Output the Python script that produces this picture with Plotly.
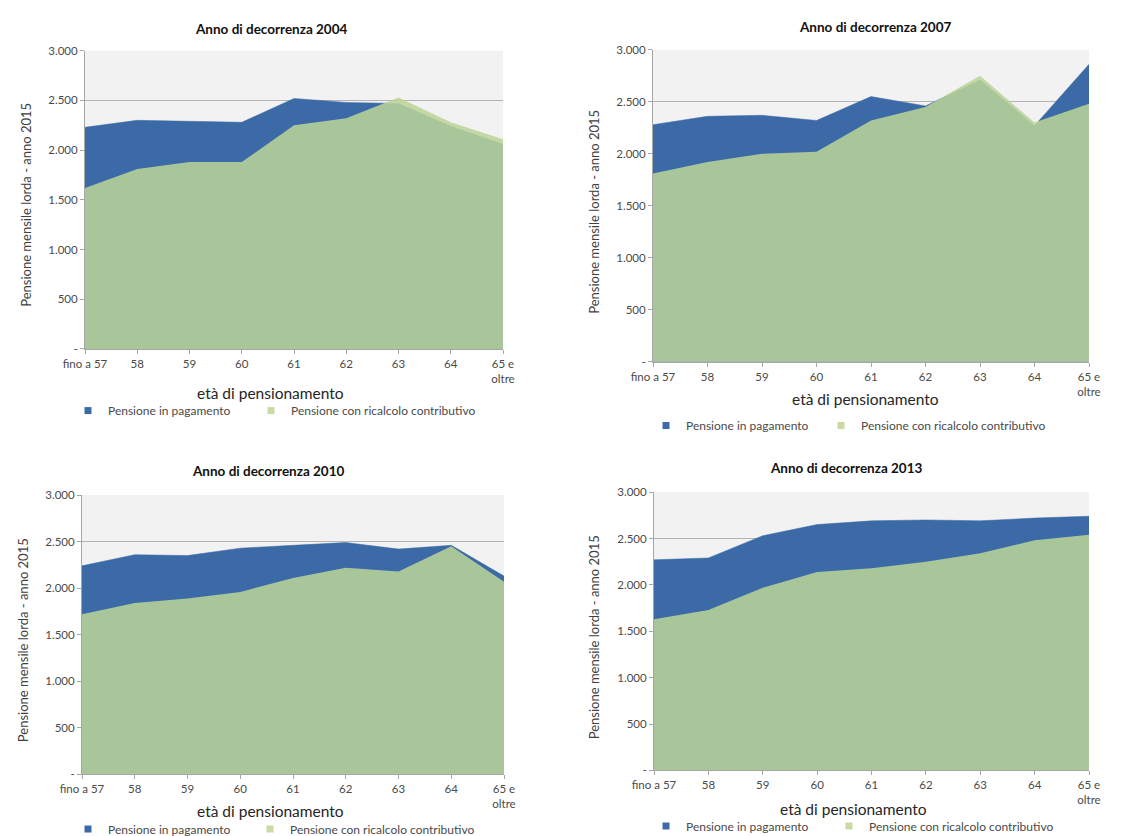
import plotly.graph_objects as go

# ---------------- data ----------------
categories = ["fino a 57", "58", "59", "60", "61", "62", "63", "64", "65 e<br>oltre"]
years = ["2004", "2007", "2010", "2013"]

pagamento_2004 = [2230, 2300, 2290, 2280, 2520, 2480, 2470, 2240, 2060]
ricalcolo_2004 = [1620, 1810, 1880, 1880, 2250, 2320, 2530, 2280, 2110]

pagamento_2007 = [2280, 2360, 2370, 2320, 2550, 2460, 2710, 2270, 2860]
ricalcolo_2007 = [1810, 1920, 2000, 2020, 2320, 2450, 2750, 2300, 2480]

pagamento_2010 = [2240, 2360, 2350, 2430, 2460, 2490, 2420, 2460, 2130]
ricalcolo_2010 = [1720, 1840, 1890, 1960, 2110, 2220, 2180, 2450, 2070]

pagamento_2013 = [2270, 2290, 2530, 2650, 2690, 2700, 2690, 2720, 2740]
ricalcolo_2013 = [1630, 1730, 1970, 2140, 2180, 2250, 2340, 2480, 2540]

ytick_vals = [0, 500, 1000, 1500, 2000, 2500, 3000]
ytick_text = ["-", "500", "1.000", "1.500", "2.000", "2.500", "3.000"]

series_names = ["Pensione in pagamento", "Pensione con ricalcolo contributivo"]
pagamento = [pagamento_2004, pagamento_2007, pagamento_2010, pagamento_2013]
ricalcolo = [ricalcolo_2004, ricalcolo_2007, ricalcolo_2010, ricalcolo_2013]

# ---------------- layout geometry (pixels) ----------------
W, H = 1146, 836
FONT = "Lato"
BLUE = "#3B6AA6"
GREEN = "rgba(188,212,152,0.86)"
LEGEND_GREEN = "#C9DAA6"

panels = [
    dict(box=(77, 495, 43, 343), title=(263, 21), ytitle=(18, 198), xtitle=(262, 387),
         legend=((90, 273), 405)),
    dict(box=(645, 1081, 42, 356), title=(867, 19), ytitle=(586, 205), xtitle=(857, 393),
         legend=((668, 843), 420)),
    dict(box=(74, 496, 490, 771), title=(260, 466), ytitle=(15, 636), xtitle=(262, 808),
         legend=((90, 272), 826)),
    dict(box=(646, 1081, 487, 767), title=(838, 463), ytitle=(586, 633), xtitle=(846, 806),
         legend=((668, 851), 823)),
]


def fx(p):
    return p / W


def fy(p):
    return 1 - p / H


fig = go.Figure()
annotations = []
layout_upd = {}
xidx = list(range(len(categories)))
legend_count = 0

for i, (yr, pg, rc, pn) in enumerate(zip(years, pagamento, ricalcolo, panels)):
    n = "" if i == 0 else str(i + 1)
    xa, ya = "x" + n, "y" + n
    fig.add_trace(go.Scatter(
        x=xidx, y=pg, xaxis=xa, yaxis=ya, name=series_names[0],
        mode="lines", fill="tozeroy", fillcolor=BLUE,
        line=dict(color=BLUE, width=0.5), showlegend=False, hoverinfo="skip"))
    fig.add_trace(go.Scatter(
        x=xidx, y=rc, xaxis=xa, yaxis=ya, name=series_names[1],
        mode="lines", fill="tozeroy", fillcolor=GREEN,
        line=dict(color="rgba(188,212,152,0.0)", width=0), showlegend=False, hoverinfo="skip"))

    # legend entries with small square swatches (as in the Excel legend), one legend each
    (mx1, mx2), ly = pn["legend"]
    for name, col, mx in zip(series_names, [BLUE, LEGEND_GREEN], (mx1, mx2)):
        legend_count += 1
        leg = "legend" if legend_count == 1 else "legend" + str(legend_count)
        fig.add_trace(go.Scatter(
            x=[None], y=[None], xaxis=xa, yaxis=ya, name=name, mode="markers",
            marker=dict(symbol="square", size=7, color=col), legend=leg,
            hoverinfo="skip"))
        layout_upd[leg] = dict(x=fx(mx - 30), y=fy(ly), xanchor="left", yanchor="middle",
                               orientation="h", itemwidth=30,
                               font=dict(family=FONT, size=12, color="#4A4A4A"),
                               bgcolor="rgba(0,0,0,0)")

    x0, x1, y0, y1 = pn["box"]
    axis_common = dict(linecolor="#A6A6A6", showline=True, ticks="outside",
                       tickcolor="#A6A6A6", ticklen=4, automargin=False,
                       tickfont=dict(family=FONT, size=11.5, color="#4A4A4A"))
    layout_upd["xaxis" + n] = dict(domain=[fx(x0), fx(x1)], anchor=ya,
                                   range=[0, len(categories) - 1],
                                   tickvals=xidx, ticktext=categories, showgrid=False,
                                   zeroline=False, **axis_common)
    layout_upd["yaxis" + n] = dict(domain=[fy(y1), fy(y0)], anchor=xa, range=[0, 3000],
                                   tickvals=ytick_vals, ticktext=ytick_text, showgrid=True,
                                   gridcolor="#B4B4B4", gridwidth=1, zeroline=False,
                                   **axis_common)

    annotations.append(dict(text="<b>Anno di decorrenza " + yr + "</b>", x=fx(pn["title"][0]),
                            y=fy(pn["title"][1]), xref="paper", yref="paper", showarrow=False,
                            xanchor="center", yanchor="middle",
                            font=dict(family=FONT, size=13.5, color="#111111")))
    annotations.append(dict(text="Pensione mensile lorda - anno 2015", x=fx(pn["ytitle"][0]),
                            y=fy(pn["ytitle"][1]), xref="paper", yref="paper", showarrow=False,
                            textangle=-90, xanchor="center", yanchor="middle",
                            font=dict(family=FONT, size=13, color="#404040")))
    annotations.append(dict(text="età di pensionamento", x=fx(pn["xtitle"][0]),
                            y=fy(pn["xtitle"][1]), xref="paper", yref="paper", showarrow=False,
                            xanchor="center", yanchor="middle",
                            font=dict(family=FONT, size=15.5, color="#262626")))

fig.update_layout(layout_upd)
fig.update_layout(
    width=W, height=H,
    margin=dict(l=0, r=0, t=0, b=0),
    paper_bgcolor="white",
    plot_bgcolor="#F2F2F2",
    annotations=annotations,
    showlegend=True,
)

fig.write_html("out.html", config={"displayModeBar": False})
